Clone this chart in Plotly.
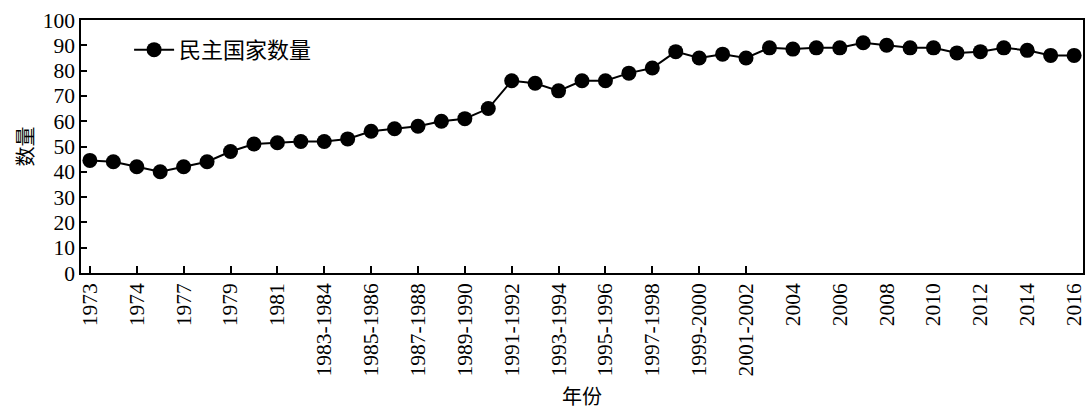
import plotly.graph_objects as go

# Survey periods (every other one is labelled on the axis)
periods = [
    "1973", "1973-1974", "1974", "1975-1976", "1977", "1978", "1979", "1980",
    "1981", "1982", "1983-1984", "1984-1985", "1985-1986", "1986-1987",
    "1987-1988", "1988-1989", "1989-1990", "1990-1991", "1991-1992",
    "1992-1993", "1993-1994", "1994-1995", "1995-1996", "1996-1997",
    "1997-1998", "1998-1999", "1999-2000", "2000-2001", "2001-2002",
    "2003", "2004", "2005", "2006", "2007", "2008", "2009", "2010", "2011",
    "2012", "2013", "2014", "2015", "2016",
]
democracies = [
    44.5, 44, 42, 40, 42, 44, 48, 51, 51.5, 52, 52, 53, 56, 57, 58, 60, 61,
    65, 76, 75, 72, 76, 76, 79, 81, 87.5, 85, 86.5, 85, 89, 88.5, 89, 89,
    91, 90, 89, 89, 87, 87.5, 89, 88, 86, 86,
]
tick_labels = periods[::2]
tick_marked = tick_labels[:15]  # ticks drawn up to 2001-2002

series_name = "民主国家数量"
x_title = "年份"
y_title = "数量"

FONT = "Liberation Serif, 'Noto Sans CJK SC', serif"
CJK = "'Noto Sans CJK SC', sans-serif"

fig = go.Figure()
fig.add_trace(go.Scatter(
    x=periods, y=democracies, mode="lines+markers", name=series_name,
    line=dict(color="black", width=2),
    marker=dict(color="black", size=15),
))
# helper trace for the axis carrying the tick marks
fig.add_trace(go.Scatter(
    x=periods, y=democracies, xaxis="x2", mode="markers",
    marker=dict(opacity=0), showlegend=False, hoverinfo="skip",
))

xr = [-0.38, len(periods) - 1 + 0.38]
fig.update_layout(
    width=1087, height=411,
    margin=dict(l=81, r=1, t=20, b=138),
    paper_bgcolor="white", plot_bgcolor="white",
    font=dict(family=FONT, size=21.5, color="black"),
    showlegend=True,
    legend=dict(x=0.048, y=0.965, xanchor="left", yanchor="top",
                bgcolor="rgba(0,0,0,0)", font=dict(family=CJK, size=22),
                itemwidth=40),
    xaxis=dict(
        type="category", categoryorder="array", categoryarray=periods,
        range=xr, tickmode="array", tickvals=tick_labels, ticktext=tick_labels,
        tickangle=-90, ticks="", showgrid=False, zeroline=False,
        showline=True, linecolor="black", linewidth=1.5, mirror=True,
        tickfont=dict(family=FONT, size=21.5),
        title=dict(text=x_title, font=dict(family=CJK, size=20), standoff=14),
    ),
    xaxis2=dict(
        type="category", categoryorder="array", categoryarray=periods,
        overlaying="x", anchor="y", side="bottom", range=xr,
        tickmode="array", tickvals=tick_marked, showticklabels=False,
        ticks="inside", ticklen=7, tickwidth=1.5, tickcolor="black",
        showgrid=False, zeroline=False, showline=False,
    ),
    yaxis=dict(
        range=[0, 100], tickmode="linear", tick0=0, dtick=10,
        ticks="inside", ticklen=6, tickwidth=1.5, tickcolor="black",
        showgrid=False, zeroline=False,
        showline=True, linecolor="black", linewidth=1.5, mirror=True,
        tickfont=dict(family=FONT, size=21.5),
        title=dict(text=y_title, font=dict(family=CJK, size=20), standoff=4),
    ),
)

fig.write_html(
    "out.html",
    config={"displayModeBar": False},
    post_script="document.body.style.margin='0';document.body.style.overflow='hidden';",
)
